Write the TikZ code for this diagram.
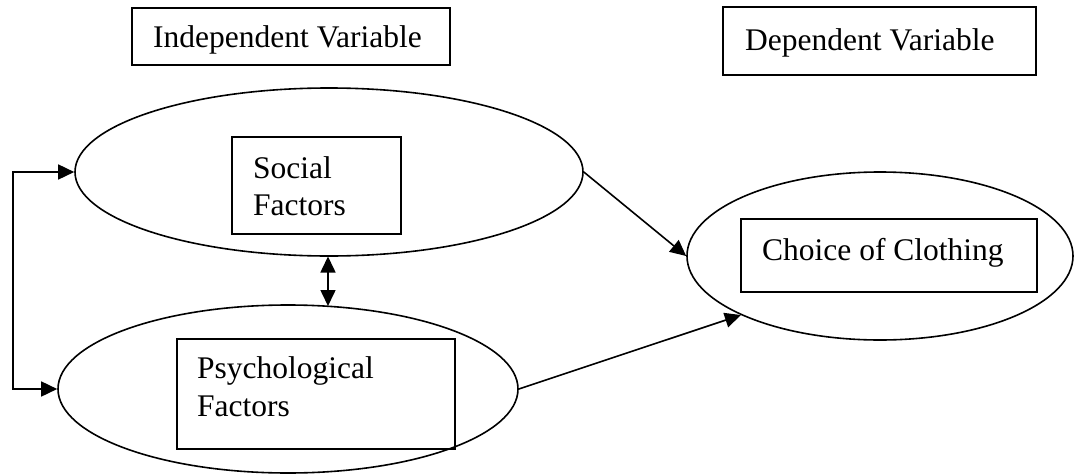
\documentclass[tikz,border=0pt]{standalone}
\usepackage{fontspec}
\setmainfont{Liberation Serif}
\usetikzlibrary{shapes.geometric,arrows.meta}
\tikzset{
  every picture/.style={x=1pt,y=-1pt},
  ln/.style={line width=1.6pt,black},
  box/.style={ln,draw,rectangle,inner sep=0pt},
  ell/.style={ln,draw,ellipse,inner sep=0pt},
  txt/.style={inner sep=0pt,anchor=base west,font=\fontsize{31.5}{38}\selectfont},
  arr/.style={ln,-{Triangle[length=16pt,width=15pt]}},
  arrboth/.style={ln,{Triangle[length=16pt,width=15pt]}-{Triangle[length=16pt,width=15pt]}}
}
\begin{document}
\begin{tikzpicture}
\useasboundingbox (0,0) rectangle (1077,474);
% headers
\node[box,minimum width=318pt,minimum height=57pt] (ib) at (291,36.5) {};
\node[txt] (ibt) at (153,47) {Independent Variable};
\node[box,minimum width=313pt,minimum height=68pt] (db) at (879.5,41) {};
\node[txt] (dbt) at (745,50) {Dependent Variable};
% ellipses
\node[ell,minimum width=508pt,minimum height=168pt] (social) at (329,172) {};
\node[ell,minimum width=460pt,minimum height=168pt] (psych) at (288,389) {};
\node[ell,minimum width=386pt,minimum height=168pt] (choice) at (880,256) {};
% inner boxes
\node[box,minimum width=169pt,minimum height=97pt] (sb) at (316.5,185.5) {};
\node[txt] (sbt1) at (253,178) {Social};
\node[txt] (sbt2) at (253,215) {Factors};
\node[box,minimum width=278pt,minimum height=110pt] (pb) at (316,394) {};
\node[txt] (pbt1) at (197,378) {Psychological};
\node[txt] (pbt2) at (197,416) {Factors};
\node[box,minimum width=296pt,minimum height=73pt] (cb) at (889,255.5) {};
\node[txt] (cbt) at (762,260) {Choice of Clothing};
% connectors
\coordinate (tl) at (13,172);
\coordinate (bl) at (13,389);
\draw[arrboth] (social.west) -- (tl) -- (bl) -- (psych.west);
\coordinate (dtop) at (328,256.5);
\coordinate (dbot) at (328,306);
\draw[arrboth] (dtop) -- (dbot);
\draw[arr] (social.east) -- (choice.west);
\draw[arr] (psych.east) -- (choice.203);
\end{tikzpicture}
\end{document}
